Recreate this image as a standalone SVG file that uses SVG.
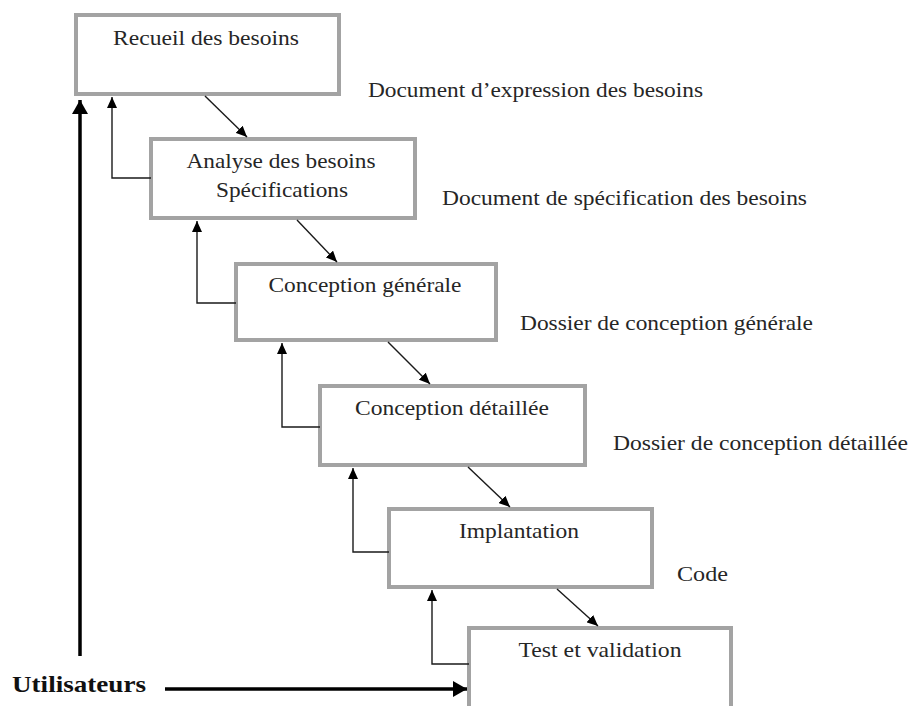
<svg xmlns="http://www.w3.org/2000/svg" width="910" height="706" viewBox="0 0 910 706">
  <style>
    .box { fill: #ffffff; stroke: #a3a3a3; stroke-width: 4; }
    .lbl { font-family: "Liberation Serif", "Times New Roman", serif; font-size: 21px; fill: #262626; }
    .mid { text-anchor: middle; }
    .link { fill: none; stroke: #1a1a1a; stroke-width: 1.4; }
    .heavy { fill: none; stroke: #000000; stroke-width: 3.5; }
    .user { font-family: "Liberation Serif", "Times New Roman", serif; font-size: 23px; font-weight: bold; fill: #111111; }
  </style>
  <defs>
    <marker id="tip" markerUnits="userSpaceOnUse" markerWidth="12" markerHeight="10" refX="11" refY="5" orient="auto">
      <path d="M0,0 L11,5 L0,10 z" fill="#000000"/>
    </marker>
    <marker id="tipHeavy" markerUnits="userSpaceOnUse" markerWidth="15" markerHeight="16" refX="14" refY="8" orient="auto">
      <path d="M0,0 L14,8 L0,16 z" fill="#000000"/>
    </marker>
  </defs>

  <rect width="910" height="706" fill="#ffffff"/>

  <!-- phases of the cascade -->
  <g id="recueil">
    <rect class="box" x="76" y="15" width="263" height="79"/>
    <text class="lbl mid" x="206" y="45" textLength="186" lengthAdjust="spacingAndGlyphs">Recueil des besoins</text>
  </g>
  <g id="analyse">
    <rect class="box" x="151" y="139" width="264" height="79"/>
    <text class="lbl mid" x="281" y="168" textLength="189" lengthAdjust="spacingAndGlyphs">Analyse des besoins</text>
    <text class="lbl mid" x="282" y="197" textLength="132" lengthAdjust="spacingAndGlyphs">Spécifications</text>
  </g>
  <g id="conception-generale">
    <rect class="box" x="236" y="264" width="260" height="76"/>
    <text class="lbl mid" x="365" y="292" textLength="193" lengthAdjust="spacingAndGlyphs">Conception générale</text>
  </g>
  <g id="conception-detaillee">
    <rect class="box" x="320" y="386" width="265" height="79"/>
    <text class="lbl mid" x="452" y="415" textLength="194" lengthAdjust="spacingAndGlyphs">Conception détaillée</text>
  </g>
  <g id="implantation">
    <rect class="box" x="389" y="509" width="263" height="78"/>
    <text class="lbl mid" x="519" y="538" textLength="120" lengthAdjust="spacingAndGlyphs">Implantation</text>
  </g>
  <g id="test">
    <rect class="box" x="469" y="628" width="262" height="100"/>
    <text class="lbl mid" x="600" y="657" textLength="163" lengthAdjust="spacingAndGlyphs">Test et validation</text>
  </g>

  <!-- deliverables -->
  <g id="livrables">
    <text class="lbl" x="368" y="97" textLength="335" lengthAdjust="spacingAndGlyphs">Document d’expression des besoins</text>
    <text class="lbl" x="442" y="205" textLength="365" lengthAdjust="spacingAndGlyphs">Document de spécification des besoins</text>
    <text class="lbl" x="520" y="330" textLength="293" lengthAdjust="spacingAndGlyphs">Dossier de conception générale</text>
    <text class="lbl" x="613" y="450" textLength="295" lengthAdjust="spacingAndGlyphs">Dossier de conception détaillée</text>
    <text class="lbl" x="677" y="581" textLength="51" lengthAdjust="spacingAndGlyphs">Code</text>
  </g>

  <g id="utilisateurs">
    <text class="user" x="12" y="692" textLength="134" lengthAdjust="spacingAndGlyphs">Utilisateurs</text>
  </g>

  <!-- connectors -->
  <g id="connectors">
    <!-- forward steps -->
    <line class="link" x1="205" y1="96" x2="247" y2="137" marker-end="url(#tip)"/>
    <line class="link" x1="297" y1="220" x2="337" y2="262" marker-end="url(#tip)"/>
    <line class="link" x1="388" y1="342" x2="430" y2="384" marker-end="url(#tip)"/>
    <line class="link" x1="468" y1="467" x2="510" y2="507" marker-end="url(#tip)"/>
    <line class="link" x1="557" y1="589" x2="598" y2="626" marker-end="url(#tip)"/>
    <!-- feedback loops -->
    <polyline class="link" points="151,178 112,178 112,97" marker-end="url(#tip)"/>
    <polyline class="link" points="236,303 197,303 197,221" marker-end="url(#tip)"/>
    <polyline class="link" points="320,427 282,427 282,343" marker-end="url(#tip)"/>
    <polyline class="link" points="389,552 353,552 353,468" marker-end="url(#tip)"/>
    <polyline class="link" points="469,664 432,664 432,590" marker-end="url(#tip)"/>
    <!-- users -->
    <line class="heavy" x1="80" y1="656" x2="80" y2="100" marker-end="url(#tipHeavy)"/>
    <line class="heavy" x1="165" y1="689" x2="467" y2="689" marker-end="url(#tipHeavy)"/>
  </g>
</svg>
